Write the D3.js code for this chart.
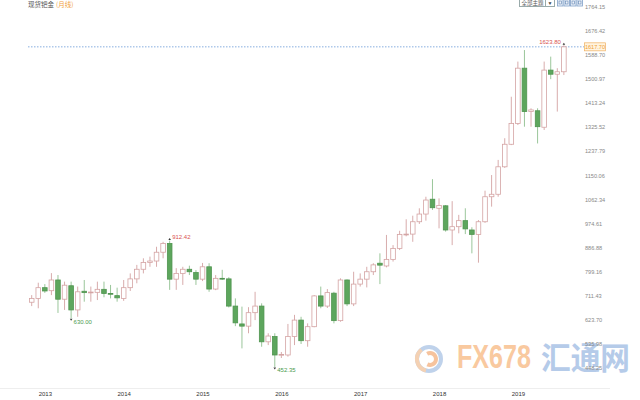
<!DOCTYPE html>
<html><head><meta charset="utf-8">
<script src="https://cdn.jsdelivr.net/npm/d3@7"></script>
<style>html,body{margin:0;padding:0;background:#fff;overflow:hidden}svg{display:block}</style>
</head><body>
<svg id="c" width="640" height="400"></svg>
<script>
// ---- data (monthly candles, Nov 2012 .. Aug 2019) ----
const months = d3.range(82).map(i => { const d = new Date(2012, 10 + i, 1); return d.getFullYear() + "-" + String(d.getMonth() + 1).padStart(2, "0"); });
const open  = [688,702,741,730,769,699,748,660,728,723,724,735,720,712,702,741,773,808,833,838,870,902,772,793,808,796,772,817,736,775,773,674,609,601,650,674,544,563,496,496,563,623,548,599,711,674,721,621,769,682,754,772,799,830,820,844,884,933,936,981,1009,1063,1030,1039,951,963,985,951,935,981,1072,1081,1181,1263,1339,1540,1382,1385,1325,1533,1518,1527];
const high  = [714,759,754,794,787,763,763,745,769,745,763,763,751,741,769,793,824,848,854,890,908,912.42,812,817,821,805,831,830,787,806,779,702,672,670,726,684,575,575,507,609,642,635,611,714,745,736,726,775,771,799,793,817,830,866,933,896,948,990,1003,1030,1072,1136,1066,1042,1056,1006,1030,961,987,1094,1151,1206,1285,1436,1564,1606,1394,1394,1564,1582,1540,1623.8];
const low   = [674,666,722,714,649,660,630,635,690,690,696,706,702,690,693,729,757,793,817,817,848,733,733,751,787,751,765,726,732,769,669,601,520,575,623,526,532,452.35,485,490,532,536,526,597,666,667,611,617,674,674,745,742,787,754,815,836,878,928,908,973,985,1024,957,945,896,939,936,866,832,977,1036,1072,1177,1260,1333,1327,1327,1266,1315,1500,1382,1515];
const close = [702,741,729,769,699,750,660,726,723,725,735,720,717,704,741,773,808,833,838,870,902,772,793,808,799,772,817,736,775,773,674,613,601,650,674,544,565,496,498,563,623,548,599,711,674,723,621,769,682,754,772,799,824,823,844,884,935,936,981,1009,1060,1032,1040,951,963,985,955,935,981,1072,1081,1181,1263,1339,1540,1382,1388,1327,1533,1518,1527,1617.7];
const priceTicks = [448.25,535.98,623.70,711.43,799.16,886.88,974.61,1062.34,1150.06,1237.79,1325.52,1413.24,1500.97,1588.70,1676.42,1764.15];
const yearLabels = ["2013","2014","2015","2016","2017","2018","2019"];
const lastPrice = 1617.70;
const marks = [ {i:21, v:912.42, kind:"high"}, {i:6, v:630.00, kind:"low"}, {i:37, v:452.35, kind:"low"}, {i:81, v:1623.80, kind:"high", left:true} ];

const svg = d3.select("#c");
const x = d3.scaleLinear().domain([0, months.length - 1]).range([31.7, 31.7 + 6.57 * (months.length - 1)]);
const y = d3.scaleLinear().domain([448.25, 1764.15]).range([368.1, 6.6]);
const numFont = "'Liberation Sans', Arial, sans-serif";
const cjk = "'Noto Sans CJK SC', sans-serif";

// ---- watermark ----
const wm = svg.append("g").attr("opacity", 0.85);
wm.append("circle").attr("cx", 429).attr("cy", 359).attr("r", 12).attr("fill", "none").attr("stroke", "#b5cbe8").attr("stroke-width", 4);
wm.append("path").attr("d", d3.arc()({innerRadius: 4, outerRadius: 8, startAngle: -0.5, endAngle: 3.6})).attr("transform", "translate(430,359)").attr("fill", "#f5b98d");
wm.append("path").attr("d", d3.arc()({innerRadius: 10, outerRadius: 14, startAngle: 3.4, endAngle: 5.6})).attr("transform", "translate(429,359)").attr("fill", "#f3c9a6");
wm.append("text").attr("x", 457).attr("y", 368).attr("font-family", numFont).attr("font-weight", "bold").attr("font-size", 33)
  .attr("textLength", 74).attr("lengthAdjust", "spacingAndGlyphs").attr("fill", "#f8c08f").text("FX678");
wm.append("text").attr("x", 541).attr("y", 369).attr("font-family", cjk).attr("font-weight", "bold").attr("font-size", 31)
  .attr("textLength", 89).attr("lengthAdjust", "spacingAndGlyphs").attr("fill", "#a9c2e6").text("汇通网");

// ---- title ----
const t = svg.append("text").attr("x", 28).attr("y", 6.5).attr("font-family", cjk).attr("font-size", 6.5);
t.append("tspan").attr("fill", "#555").text("现货钯金");
t.append("tspan").attr("fill", "#f0a040").attr("dx", 2).text("(月线)");

// ---- top-right tool buttons ----
const tb = svg.append("g");
tb.append("rect").attr("x", 519.5).attr("y", -1).attr("width", 26).attr("height", 7.5).attr("fill", "#fff").attr("stroke", "#9aa");
tb.append("text").attr("x", 532.5).attr("y", 5.2).attr("text-anchor", "middle").attr("font-family", cjk).attr("font-size", 5.5).attr("fill", "#555").text("全部主题");
tb.append("rect").attr("x", 545.5).attr("y", -1).attr("width", 9).attr("height", 7.5).attr("fill", "#fff").attr("stroke", "#9aa");
tb.append("text").attr("x", 550).attr("y", 5).attr("text-anchor", "middle").attr("font-size", 5).attr("fill", "#444").text("▼");
[557.5, 564, 570.5, 577].forEach((bx, k) => {
  tb.append("rect").attr("x", bx).attr("y", -1).attr("width", 5.5).attr("height", 7).attr("fill", "#eef3fa").attr("stroke", "#7fa0c8").attr("stroke-width", 0.8);
  tb.append("rect").attr("x", bx + 1.5).attr("y", 1).attr("width", 2.5).attr("height", 3).attr("fill", "none").attr("stroke", "#5b80b0").attr("stroke-width", 0.6);
});

// ---- last price dashed line ----
svg.append("line").attr("x1", 28).attr("x2", 584).attr("y1", y(lastPrice)).attr("y2", y(lastPrice))
  .attr("stroke", "#6a9ad8").attr("stroke-width", 0.8).attr("stroke-dasharray", "1.5,1.5");

// ---- candles ----
const upStroke = "#d4a3a3", dnFill = "#5da65d", dnStroke = "#4f944f";
const bw = 4.6;
const g = svg.append("g");
months.forEach((m, i) => {
  const up = close[i] >= open[i];
  const cx = x(i);
  g.append("line").attr("x1", cx).attr("x2", cx).attr("y1", y(high[i])).attr("y2", y(low[i]))
    .attr("stroke", up ? upStroke : "#8fbf8f").attr("stroke-width", 0.9);
  const top = y(Math.max(open[i], close[i])), bot = y(Math.min(open[i], close[i]));
  g.append("rect").attr("x", cx - bw / 2).attr("y", top).attr("width", bw).attr("height", Math.max(0.8, bot - top))
    .attr("fill", up ? "#fff" : dnFill).attr("stroke", up ? upStroke : dnStroke).attr("stroke-width", 0.8);
});

// ---- high / low markers ----
marks.forEach(mk => {
  const cx = x(mk.i), cy = y(mk.v);
  const col = mk.kind === "high" ? "#d9534f" : "#4c9a4c";
  if (mk.kind === "high") {
    svg.append("path").attr("d", `M${cx - 1.3},${cy - 0.5}L${cx + 1.3},${cy - 0.5}L${cx},${cy - 2.5}Z`).attr("fill", "#333");
    svg.append("text").attr("x", mk.left ? cx - 3 : cx + 2.5).attr("y", cy - 1.5).attr("text-anchor", mk.left ? "end" : "start")
      .attr("font-family", numFont).attr("font-size", 6).attr("fill", col).text(mk.v.toFixed(2));
  } else {
    svg.append("path").attr("d", `M${cx - 1.3},${cy + 0.5}L${cx + 1.3},${cy + 0.5}L${cx},${cy + 2.5}Z`).attr("fill", "#333");
    svg.append("text").attr("x", cx + 2.5).attr("y", cy + 5.5)
      .attr("font-family", numFont).attr("font-size", 6).attr("fill", col).text(mk.v.toFixed(2));
  }
});

// ---- right price axis ----
const ax = svg.append("g").attr("transform", "translate(585,0)")
  .call(d3.axisRight(y).tickValues(priceTicks).tickSize(0).tickPadding(0).tickFormat(d3.format(".2f")));
ax.select(".domain").remove();
ax.selectAll("text").attr("font-family", numFont).attr("font-size", 5.6).attr("fill", "#888");

// last price tag
const ly = y(lastPrice);
svg.append("rect").attr("x", 584.5).attr("y", ly - 4).attr("width", 21).attr("height", 8).attr("fill", "#fff4e0").attr("stroke", "#f0b060").attr("stroke-width", 0.7);
svg.append("text").attr("x", 595).attr("y", ly + 2).attr("text-anchor", "middle").attr("font-family", numFont).attr("font-size", 5.6).attr("fill", "#f0a030").text(lastPrice.toFixed(2));

// ---- bottom time axis ----
svg.append("line").attr("x1", 0).attr("x2", 610).attr("y1", 388.5).attr("y2", 388.5).attr("stroke", "#eee");
const jan = yearLabels.map(yr => months.indexOf(yr + "-01"));
const bx = svg.append("g").attr("transform", "translate(0,392)")
  .call(d3.axisBottom(x).tickValues(jan).tickSize(0).tickPadding(0).tickFormat((d, k) => yearLabels[k]));
bx.select(".domain").remove();
bx.selectAll("text").attr("font-family", numFont).attr("font-size", 6).attr("fill", "#333");
</script>
</body></html>
